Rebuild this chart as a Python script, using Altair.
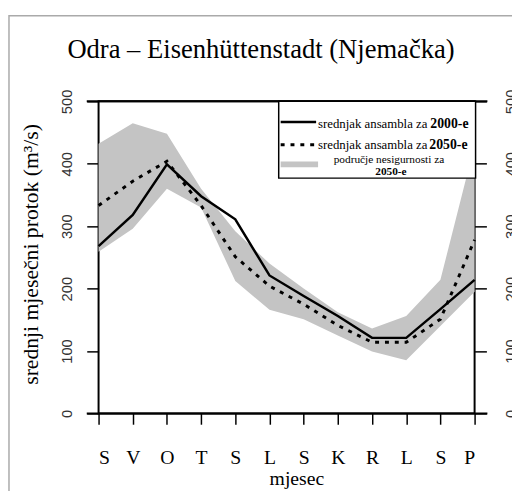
import altair as alt
import pandas as pd

# ---- data ----
months = ["S", "V", "O", "T", "S", "L", "S", "K", "R", "L", "S", "P"]
month_idx = list(range(1, 13))
mean_2000 = [268, 318, 399, 348, 311, 221, 188, 156, 121, 121, 167, 214]
mean_2050 = [333, 372, 404, 333, 251, 204, 175, 141, 114, 114, 151, 278]
band_low = [259, 296, 360, 330, 212, 166, 151, 125, 99, 85, 140, 195]
band_high = [432, 465, 448, 360, 292, 240, 200, 162, 136, 156, 214, 430]
y_ticks = [0, 100, 200, 300, 400, 500]

title_text = "Odra – Eisenhüttenstadt (Njemačka)"
y_title = "srednji mjesečni protok (m³/s)"
x_title = "mjesec"
legend_plain = ["srednjak ansambla za", "srednjak ansambla za"]
legend_bold = ["2000-e", "2050-e"]
legend_band = ["područje nesigurnosti za", "2050-e"]

df = pd.DataFrame({
    "m": month_idx,
    "mean_2000": mean_2000,
    "mean_2050": mean_2050,
    "low": band_low,
    "high": band_high,
})

SERIF = "Liberation Serif"
SANS = "Liberation Sans"
BAND = "#c4c4c4"

label_expr = "[" + ",".join("'%s'" % m for m in months) + "][datum.value - 1]"

x_scale = alt.Scale(domain=[1, 12], nice=False, zero=False)
y_scale = alt.Scale(domain=[0, 500], nice=False, zero=True)

x_axis = alt.Axis(
    values=month_idx, labelExpr=label_expr, labelAngle=0,
    tickSize=11, tickColor="black", tickWidth=1.5, domain=False, grid=False,
    labelFont=SERIF, labelFontSize=20, labelColor="black", labelPadding=24,
    title=x_title, titleFont=SERIF, titleFontSize=20, titleFontWeight="normal",
    titleColor="black", titleBaseline="alphabetic", titleAlign="center",
    titleX=201, titleY=72,
)
x_enc = alt.X("m:Q", scale=x_scale, axis=x_axis)

y_axis_left = alt.Axis(
    orient="left", values=y_ticks, tickSize=12, tickColor="black", tickWidth=1.5,
    domain=False, grid=False, labelAngle=270, labelAlign="center",
    labelBaseline="bottom", labelPadding=12, labelFont=SANS, labelFontSize=15,
    labelColor="#333333",
    title=y_title, titleFont=SERIF, titleFontSize=22, titleFontWeight="normal",
    titleColor="black", titleAngle=270, titleAlign="center",
    titleBaseline="alphabetic", titleX=-62, titleY=155,
)
y_axis_right = alt.Axis(
    orient="right", values=y_ticks, tickSize=12, tickColor="black", tickWidth=1.5,
    domain=False, grid=False, labelAngle=270, labelAlign="center",
    labelBaseline="top", labelPadding=18, labelFont=SANS, labelFontSize=15,
    labelColor="#333333", title=None,
)

band = alt.Chart(df).mark_area(color=BAND, opacity=1).encode(
    x=x_enc,
    y=alt.Y("low:Q", scale=y_scale, axis=y_axis_left),
    y2="high:Q",
)

line2000 = alt.Chart(df).mark_line(color="black", strokeWidth=2.5).encode(
    x=x_enc,
    y=alt.Y("mean_2000:Q", scale=y_scale, axis=y_axis_right),
)

line2050 = alt.Chart(df).mark_line(
    color="black", strokeWidth=3, strokeDash=[4, 6]
).encode(
    x=x_enc,
    y=alt.Y("mean_2050:Q", scale=y_scale, axis=None),
)

# extended horizontal frame lines at 0 and 500
hrules = alt.Chart(pd.DataFrame({"v": [0, 500]})).mark_rule(
    color="black", strokeWidth=2
).encode(
    y=alt.Y("v:Q", scale=y_scale, axis=None),
    x=alt.value(-12), x2=alt.value(395),
)

one = pd.DataFrame({"k": [0]})

# legend box
leg_box = alt.Chart(one).mark_rect(fill="white", stroke="black", strokeWidth=1.5).encode(
    x=alt.value(183), x2=alt.value(383), y=alt.value(0), y2=alt.value(78)
)
leg_solid = alt.Chart(one).mark_rule(color="black", strokeWidth=2.5).encode(
    x=alt.value(185), x2=alt.value(221), y=alt.value(21)
)
leg_dot = alt.Chart(one).mark_rule(color="black", strokeWidth=3, strokeDash=[4, 6]).encode(
    x=alt.value(185), x2=alt.value(221), y=alt.value(44)
)
leg_band = alt.Chart(one).mark_rule(color=BAND, strokeWidth=6).encode(
    x=alt.value(185), x2=alt.value(223), y=alt.value(64)
)
leg_t1 = alt.Chart(one).mark_text(font=SERIF, fontSize=13, align="left", baseline="middle").encode(
    x=alt.value(223), y=alt.value(23), text=alt.value(legend_plain[0])
)
leg_t1b = alt.Chart(one).mark_text(font=SERIF, fontSize=14, fontWeight="bold", align="left", baseline="middle").encode(
    x=alt.value(337), y=alt.value(23), text=alt.value(legend_bold[0])
)
leg_t2 = alt.Chart(one).mark_text(font=SERIF, fontSize=13, align="left", baseline="middle").encode(
    x=alt.value(223), y=alt.value(44), text=alt.value(legend_plain[1])
)
leg_t2b = alt.Chart(one).mark_text(font=SERIF, fontSize=14, fontWeight="bold", align="left", baseline="middle").encode(
    x=alt.value(336), y=alt.value(44), text=alt.value(legend_bold[1])
)
leg_t3 = alt.Chart(one).mark_text(font=SERIF, fontSize=11.5, align="center", baseline="middle").encode(
    x=alt.value(295), y=alt.value(60), text=alt.value(legend_band[0])
)
leg_t3b = alt.Chart(one).mark_text(font=SERIF, fontSize=11.5, fontWeight="bold", align="center", baseline="middle").encode(
    x=alt.value(297), y=alt.value(72), text=alt.value(legend_band[1])
)

title = alt.Chart(one).mark_text(font=SERIF, fontSize=27, align="center", baseline="alphabetic", color="black").encode(
    x=alt.value(165), y=alt.value(-44), text=alt.value(title_text)
)

frame = alt.Chart(one).mark_rect(filled=False, stroke="#aaaaaa", strokeWidth=1.5).encode(
    x=alt.value(-91), x2=alt.value(460), y=alt.value(-87), y2=alt.value(430)
)

chart = alt.layer(
    frame, band, line2000, line2050, hrules,
    leg_box, leg_solid, leg_dot, leg_band,
    leg_t1, leg_t1b, leg_t2, leg_t2b, leg_t3, leg_t3b,
    title,
).resolve_axis(y="independent").properties(
    width=382, height=317,
    padding={"left": 92, "top": 91, "right": 38, "bottom": 75},
    autosize=alt.AutoSizeParams(type="none"),
    background="white",
).configure_view(stroke="black", strokeWidth=2)

chart.save("out.html", embed_options={"renderer": "svg", "actions": False})
